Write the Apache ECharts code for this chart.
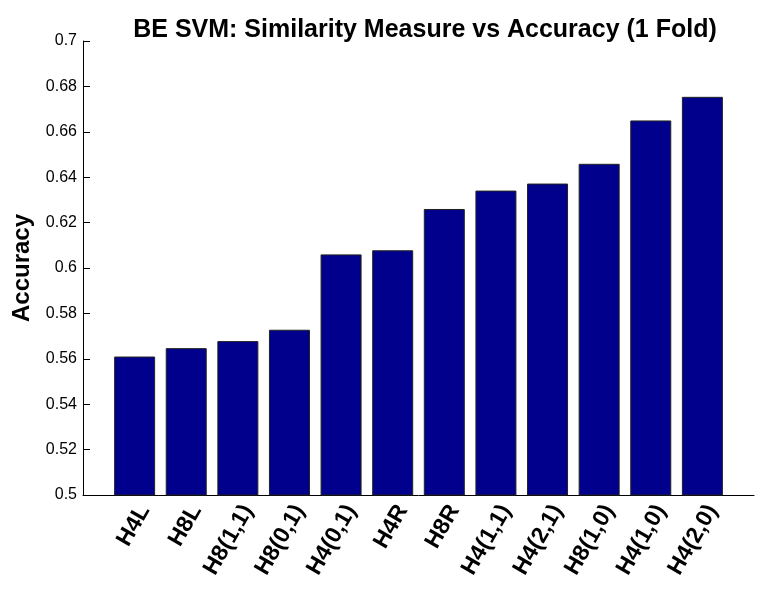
<!DOCTYPE html>
<html>
<head>
<meta charset="utf-8">
<script src="https://cdn.jsdelivr.net/npm/echarts@6/dist/echarts.min.js"></script>
<style>
  html, body { margin: 0; padding: 0; background: #fff; }
  #chart { width: 761px; height: 593px; }
</style>
</head>
<body>
<div id="chart"></div>
<script>
var categories = ['H4L', 'H8L', 'H8(1,1)', 'H8(0,1)', 'H4(0,1)', 'H4R', 'H8R',
  'H4(1,1)', 'H4(2,1)', 'H8(1,0)', 'H4(1,0)', 'H4(2,0)']
var accuracy = [0.561, 0.5647, 0.5678, 0.5728, 0.606, 0.6078, 0.626,
  0.6341, 0.6372, 0.6459, 0.665, 0.6754]

var font = 'Liberation Sans'

var chart = echarts.init(document.getElementById('chart'))
chart.setOption({
  animation: false,
  title: {
    text: 'BE SVM: Similarity Measure vs Accuracy (1 Fold)',
    left: 420,
    top: 13,
    textAlign: 'center',
    textStyle: { fontFamily: font, fontSize: 25, fontWeight: 'bold', color: '#000' }
  },
  grid: {
    left: 83,
    right: 7,
    top: 41,
    bottom: 98,
    containLabel: false,
    outerBoundsMode: 'none'
  },
  xAxis: {
    type: 'value',
    min: 0,
    max: 13,
    interval: 1,
    splitLine: { show: false },
    axisLine: { show: true, lineStyle: { color: '#000', width: 1 } },
    axisTick: { show: false },
    axisLabel: {
      rotate: 60,
      margin: 6,
      verticalAlign: 'top',
      fontFamily: font,
      fontSize: 23,
      fontWeight: 'bold',
      color: '#000',
      formatter: function (v) {
        return categories[v - 1] || ''
      }
    }
  },
  yAxis: {
    type: 'value',
    min: 0.5,
    max: 0.7,
    interval: 0.02,
    name: 'Accuracy',
    nameLocation: 'middle',
    nameGap: 49,
    nameTextStyle: { fontFamily: font, fontSize: 24, fontWeight: 'bold', color: '#000' },
    splitLine: { show: false },
    axisLine: { show: true, lineStyle: { color: '#000', width: 1 } },
    axisTick: { show: true, inside: true, length: 7, lineStyle: { color: '#000' } },
    axisLabel: { fontFamily: font, fontSize: 16, color: '#000', margin: 6 }
  },
  series: [{
    type: 'bar',
    barWidth: 41,
    data: categories.map(function (c, i) { return [i + 1, accuracy[i]] }),
    itemStyle: { color: '#00008c', borderColor: '#222', borderWidth: 1 }
  }]
})
</script>
</body>
</html>
